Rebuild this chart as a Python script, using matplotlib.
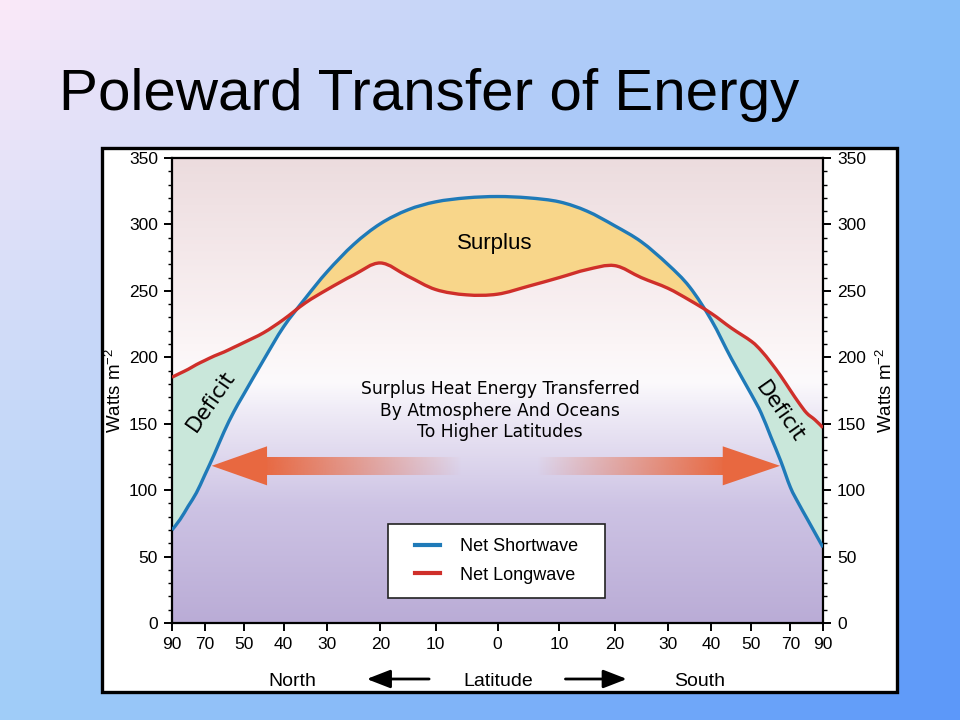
import numpy as np
import matplotlib.pyplot as plt
from matplotlib.patches import Polygon, Rectangle, PathPatch
from matplotlib.path import Path
from matplotlib.lines import Line2D
from matplotlib.ticker import MultipleLocator, NullLocator

plt.rcParams['font.family'] = ['Liberation Sans', 'DejaVu Sans']
plt.rcParams['mathtext.fontset'] = 'custom'
plt.rcParams['mathtext.rm'] = 'Liberation Sans'
plt.rcParams['mathtext.default'] = 'regular'

# latitude, north positive (north is drawn on the left)
lat = [90, 85, 80, 75, 70, 65, 60, 55, 50, 45, 40, 35, 30, 25, 20, 15, 10, 5, 0,
       -5, -10, -15, -20, -25, -30, -35, -40, -45, -50, -55, -60, -65, -70, -75, -80, -85, -90]
shortwave = [70, 78, 88, 98, 111, 127, 144, 159, 172, 198, 223, 244.5, 264.5, 285, 300.5, 311, 317, 320, 321,
             320, 317, 310, 299, 287, 270, 253, 228, 199, 172, 158, 140, 122, 102, 90, 79, 68, 57]
longwave = [185, 188, 191, 194.5, 197.5, 201, 204, 207.5, 211, 218.5, 228.5, 241, 251, 262, 271, 261, 251, 247, 247.5,
            253.5, 260, 266, 269, 260, 252, 243, 233, 222, 212, 205, 196, 186, 175, 166, 158, 153, 147]

# the original's latitude axis is stretched (roughly area weighted)
scale_lat = [0, 10, 20, 30, 40, 50, 70, 90]
scale_pos = [0, 0.19, 0.36, 0.523, 0.657, 0.78, 0.90, 1.0]
xtick_vals = [90, 70, 50, 40, 30, 20, 10, 0, -10, -20, -30, -40, -50, -70, -90]
xtick_labels = [str(abs(v)) for v in xtick_vals]


def fwd(x):
    x = np.asarray(x, dtype=float)
    return np.sign(x) * np.interp(np.abs(x), scale_lat, scale_pos)


def inv(u):
    u = np.asarray(u, dtype=float)
    return np.sign(u) * np.interp(np.abs(u), scale_pos, scale_lat)


def smooth_verts(xd, yd):
    # Catmull-Rom through the points, as cubic bezier segments in scale space
    p = np.column_stack([fwd(xd), np.asarray(yd, dtype=float)])
    pad = np.vstack([p[0], p, p[-1]])
    verts = [p[0]]
    for i in range(len(p) - 1):
        p0, p1, p2, p3 = pad[i], pad[i + 1], pad[i + 2], pad[i + 3]
        verts += [p1 + (p2 - p0) / 6, p2 - (p3 - p1) / 6, p2]
    verts = np.array(verts)
    verts[:, 0] = inv(verts[:, 0])
    return verts


def curve_path(verts):
    codes = [Path.MOVETO] + [Path.CURVE4] * (len(verts) - 1)
    return Path(verts, codes)


fig = plt.figure(figsize=(9.6, 7.2), dpi=100)

# slide background
slide = fig.add_axes([0, 0, 1, 1], zorder=-1)
tl = np.array([251, 233, 248]) / 255
tr = np.array([135, 190, 248]) / 255
bl = np.array([160, 205, 248]) / 255
br = np.array([92, 152, 250]) / 255
u = np.linspace(0, 1, 96)[None, :, None]
v = np.linspace(0, 1, 72)[:, None, None]
grad = (1 - v) * ((1 - u) * tl + u * tr) + v * ((1 - u) * bl + u * br)
slide.imshow(grad, extent=[0, 1, 0, 1], aspect='auto', origin='upper')
slide.add_patch(Rectangle((0.10625, 0.0389), 0.828, 0.7556, facecolor='white',
                          edgecolor='black', lw=2.4, zorder=2))
slide.set_xlim(0, 1)
slide.set_ylim(0, 1)
slide.axis('off')

fig.text(0.061, 1 - 110 / 720, 'Poleward Transfer of Energy', fontsize=42,
         ha='left', va='baseline')

pos = [172 / 960, 1 - 623 / 720, 651 / 960, 465 / 720]

# plot area background and the transfer arrows
bg = fig.add_axes(pos, zorder=0)
stops_f = [0.0, 0.25, 0.45, 0.52, 0.6, 0.8, 1.0]
stops_c = np.array([[186, 172, 214], [205, 195, 228], [238, 234, 246], [252, 250, 252],
                    [251, 245, 246], [244, 232, 234], [236, 220, 222]]) / 255
f = np.linspace(1, 0, 200)
col = np.stack([np.interp(f, stops_f, stops_c[:, k]) for k in range(3)], axis=1)
bg.imshow(col[:, None, :].repeat(4, axis=1), extent=[0, 1, 0, 1], aspect='auto')

arrow_c = np.array([232, 104, 64]) / 255
n = 200
shaft = np.zeros((1, n, 4))
shaft[0, :, :3] = arrow_c
shaft[0, :, 3] = np.linspace(1, 0, n)
bg.imshow(shaft, extent=[0.140, 0.445, 0.318, 0.355], aspect='auto', interpolation='bilinear')
bg.imshow(shaft[:, ::-1, :], extent=[0.561, 0.852, 0.318, 0.355], aspect='auto',
          interpolation='bilinear')
bg.add_patch(Polygon([(0.061, 0.338), (0.146, 0.380), (0.146, 0.296)], closed=True,
                     facecolor=arrow_c, edgecolor='none'))
bg.add_patch(Polygon([(0.934, 0.338), (0.846, 0.380), (0.846, 0.296)], closed=True,
                     facecolor=arrow_c, edgecolor='none'))
bg.set_xlim(0, 1)
bg.set_ylim(0, 1)
bg.axis('off')

# main chart
ax = fig.add_axes(pos, zorder=1)
ax.set_facecolor('none')
ax.set_xscale('function', functions=(fwd, inv))
ax.set_xlim(90, -90)
ax.set_ylim(0, 350)

sw_v = smooth_verts(lat, shortwave)
lw_v = smooth_verts(lat, longwave)

# region between the two curves: deficit colour everywhere, surplus colour
# clipped to the span between the two crossings
between = Path(np.vstack([sw_v, lw_v[::-1], sw_v[:1]]),
               [Path.MOVETO] + [Path.CURVE4] * (len(sw_v) - 1) + [Path.LINETO]
               + [Path.CURVE4] * (len(lw_v) - 1) + [Path.CLOSEPOLY])
diff = np.array(shortwave) - np.array(longwave)
cross = []
for i in range(len(lat) - 1):
    if np.sign(diff[i]) != np.sign(diff[i + 1]):
        t = diff[i] / (diff[i] - diff[i + 1])
        cross.append(lat[i] + t * (lat[i + 1] - lat[i]))
ax.add_patch(PathPatch(between, facecolor='#c9e7da', edgecolor='none', zorder=1))
surplus = PathPatch(between, facecolor='#f8d68a', edgecolor='none', zorder=1.5)
ax.add_patch(surplus)
clip = Rectangle((cross[0], 0), cross[-1] - cross[0], 350, transform=ax.transData)
surplus.set_clip_path(clip)

ax.add_patch(PathPatch(curve_path(sw_v), facecolor='none', edgecolor='#1f7ab8', lw=2.4, zorder=3))
ax.add_patch(PathPatch(curve_path(lw_v), facecolor='none', edgecolor='#cf2f2a', lw=2.4, zorder=3))

ax.set_xticks(xtick_vals)
ax.set_xticklabels(xtick_labels)
ax.xaxis.set_minor_locator(NullLocator())
ax.set_yticks(range(0, 351, 50))
ax.yaxis.set_minor_locator(MultipleLocator(10))
ax.tick_params(axis='both', which='major', direction='out', length=6, width=1.4,
               labelsize=12.5, pad=4)
ax.tick_params(axis='y', which='minor', direction='out', length=3, width=1)
ax.tick_params(axis='y', which='both', left=True, right=True, labelleft=True, labelright=True)
for s in ax.spines.values():
    s.set_linewidth(1.6)

ax.text(0.495, 0.817, 'Surplus', transform=ax.transAxes, fontsize=16,
        ha='center', va='center', zorder=4)
ax.text(0.059, 0.478, 'Deficit', transform=ax.transAxes, fontsize=15.5, rotation=55,
        family='DejaVu Sans', ha='center', va='center', zorder=4)
ax.text(0.934, 0.454, 'Deficit', transform=ax.transAxes, fontsize=15.5, rotation=-55,
        family='DejaVu Sans', ha='center', va='center', zorder=4)
ax.text(0.504, 0.456, 'Surplus Heat Energy Transferred\nBy Atmosphere And Oceans\nTo Higher Latitudes',
        transform=ax.transAxes, fontsize=12.3, family='DejaVu Sans', ha='center',
        va='center', linespacing=1.25, zorder=4)

ax.add_patch(Rectangle((0.332, 0.054), 0.333, 0.159, transform=ax.transAxes,
                       facecolor='white', edgecolor='#222222', lw=1.2, zorder=4))
handles = [Line2D([], [], color='#1f7ab8', lw=3), Line2D([], [], color='#cf2f2a', lw=3)]
ax.legend(handles, ['Net Shortwave', 'Net Longwave'], loc='center',
          bbox_to_anchor=(0.4985, 0.1333), frameon=False, fontsize=13,
          borderpad=0, labelspacing=0.62, handlelength=1.4, handletextpad=1.1).set_zorder(5)

fig.text(0.1198, 1 - 390 / 720, 'Watts m$^{-2}$', rotation=90, fontsize=13.5,
         ha='center', va='center')
fig.text(0.923, 1 - 390 / 720, 'Watts m$^{-2}$', rotation=90, fontsize=13.5,
         ha='center', va='center')

yb = 1 - 686 / 720
fig.text(0.305, yb, 'North', fontsize=14, ha='center', va='baseline')
fig.text(0.519, yb, 'Latitude', fontsize=14, ha='center', va='baseline')
fig.text(0.729, yb, 'South', fontsize=14, ha='center', va='baseline')
ya = 1 - 679 / 720
arrow_kw = dict(arrowstyle='-|>,head_length=0.9,head_width=0.35', color='black',
                lw=2, mutation_scale=16, shrinkA=0, shrinkB=0)
slide.annotate('', xy=(0.382, ya), xytext=(0.447, ya), arrowprops=arrow_kw, zorder=3)
slide.annotate('', xy=(0.653, ya), xytext=(0.589, ya), arrowprops=arrow_kw, zorder=3)

fig.savefig('out.png', dpi=100)
